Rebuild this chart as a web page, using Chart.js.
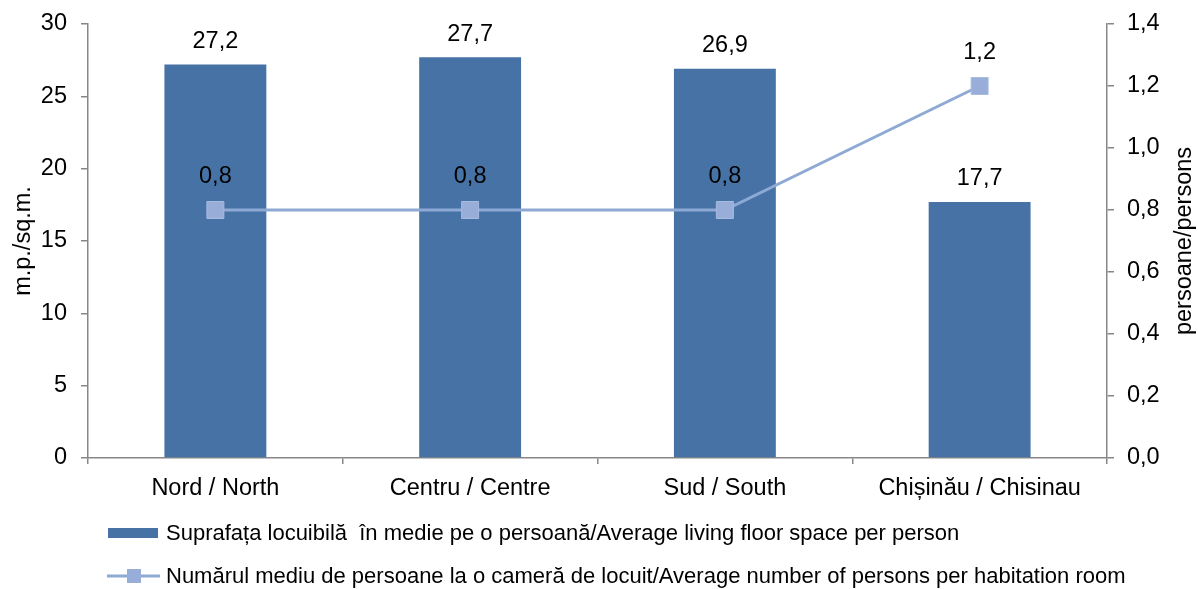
<!DOCTYPE html>
<html>
<head>
<title>Suprafața locuibilă pe regiuni</title>
<style>
  body { margin: 0; background: #fff; }
  .chart-container {
    position: relative;
    width: 1198px;
    height: 589px;
  }
</style>
</head>
<body>
<div class="chart-container">
<canvas id="mycanvas" width="1198" height="589"></canvas>
</div>

<script src="https://cdn.jsdelivr.net/npm/chart.js@4.4.1/dist/chart.umd.min.js"></script>
<script>
var regions = ["Nord / North", "Centru / Centre", "Sud / South", "Chișinău / Chisinau"];
var floorSpace = [27.2, 27.7, 26.9, 17.7];
var personsPerRoom = [0.8, 0.8, 0.8, 1.2];
var seriesNames = [
  "Suprafața locuibilă  în medie pe o persoană/Average living floor space per person",
  "Numărul mediu de persoane la o cameră de locuit/Average number of persons per habitation room"
];
var axisTitles = ["m.p./sq.m.", "persoane/persons"];

var barColor = "#4672a6";
var lineColor = "#8eaad4";
var markerColor = "#98aed8";
var axisColor = "#878787";
var fontFamily = '"Liberation Sans", Arial, sans-serif';

Chart.defaults.font.family = fontFamily;
Chart.defaults.color = "#000";

function fmt(v) {
  return (Math.round(v * 10) / 10).toFixed(1).replace(".", ",");
}

// fixed side widths, no extra room reserved for half tick labels
function fitSide(width) {
  return function(s) {
    s.width = width;
    s.paddingTop = 0;
    s.paddingBottom = 0;
  };
}

// value labels, rotated axis titles and the two-row legend
var extras = {
  id: "extras",
  afterDatasetsDraw: function(chart) {
    var ctx = chart.ctx;
    var a = chart.chartArea;
    ctx.save();
    ctx.fillStyle = "#000";
    ctx.font = "23.5px " + fontFamily;
    ctx.textAlign = "center";
    ctx.textBaseline = "middle";

    chart.getDatasetMeta(0).data.forEach(function(bar, i) {
      ctx.fillText(fmt(floorSpace[i]), bar.x, bar.y - 23);
    });
    chart.getDatasetMeta(1).data.forEach(function(pt, i) {
      ctx.fillText(fmt(personsPerRoom[i]), pt.x, pt.y - 33);
    });

    var cy = (a.top + a.bottom) / 2;
    ctx.save();
    ctx.translate(24, cy);
    ctx.rotate(-Math.PI / 2);
    ctx.fillText(axisTitles[0], 0, 0);
    ctx.restore();
    ctx.save();
    ctx.translate(1185, cy);
    ctx.rotate(-Math.PI / 2);
    ctx.fillText(axisTitles[1], 0, 0);
    ctx.restore();

    // legend
    var y1 = a.bottom + 75, y2 = a.bottom + 118;
    ctx.fillStyle = barColor;
    ctx.fillRect(108, y1 - 5, 50, 10);

    ctx.strokeStyle = lineColor;
    ctx.lineWidth = 3;
    ctx.beginPath();
    ctx.moveTo(107, y2);
    ctx.lineTo(160, y2);
    ctx.stroke();
    ctx.fillStyle = markerColor;
    ctx.fillRect(127, y2 - 7, 14, 14);

    ctx.fillStyle = "#000";
    ctx.font = "22px " + fontFamily;
    ctx.textAlign = "left";
    ctx.fillText(seriesNames[0], 166, y1 + 1);
    ctx.fillText(seriesNames[1], 166, y2 + 1);
    ctx.restore();
  }
};

var ctx = document.getElementById("mycanvas");

var chart = new Chart(ctx, {
  type: "bar",
  data: {
    labels: regions,
    datasets: [
      {
        label: seriesNames[0],
        data: floorSpace,
        backgroundColor: barColor,
        borderWidth: 0,
        categoryPercentage: 1.0,
        barPercentage: 0.4,
        yAxisID: "y",
        order: 1
      },
      {
        type: "line",
        label: seriesNames[1],
        data: personsPerRoom,
        borderColor: lineColor,
        borderWidth: 3,
        backgroundColor: markerColor,
        pointStyle: "rect",
        pointRadius: 12,
        pointBorderColor: "#a8bbe0",
        pointBorderWidth: 1,
        tension: 0,
        fill: false,
        yAxisID: "y1",
        order: 0
      }
    ]
  },
  options: {
    responsive: false,
    animation: false,
    layout: { padding: { top: 24, left: 0, right: 0, bottom: 0 } },
    plugins: {
      legend: { display: false },
      tooltip: { enabled: false }
    },
    scales: {
      x: {
        grid: { display: true, drawOnChartArea: false, drawTicks: true, tickLength: 6, color: axisColor, lineWidth: 1.5, offset: true },
        border: { color: axisColor, width: 1.5 },
        ticks: { color: "#000", font: { size: 23.5 }, padding: 10, maxRotation: 0 },
        afterFit: function(s) { s.height = 131; }
      },
      y: {
        position: "left",
        min: 0,
        max: 30,
        ticks: { stepSize: 5, color: "#000", font: { size: 23.5 }, padding: 14, minRotation: 0, maxRotation: 0 },
        grid: { drawOnChartArea: false, drawTicks: true, tickLength: 7, color: axisColor, lineWidth: 1.5 },
        border: { color: axisColor, width: 1.5 },
        afterFit: fitSide(88)
      },
      y1: {
        position: "right",
        min: 0,
        max: 1.4,
        ticks: { stepSize: 0.2, color: "#000", font: { size: 23.5 }, padding: 13, callback: function(v) { return fmt(v); } },
        grid: { drawOnChartArea: false, drawTicks: true, tickLength: 7, color: axisColor, lineWidth: 1.5 },
        border: { color: axisColor, width: 1.5 },
        afterFit: fitSide(91)
      }
    }
  },
  plugins: [extras]
});
</script>
</body>
</html>
